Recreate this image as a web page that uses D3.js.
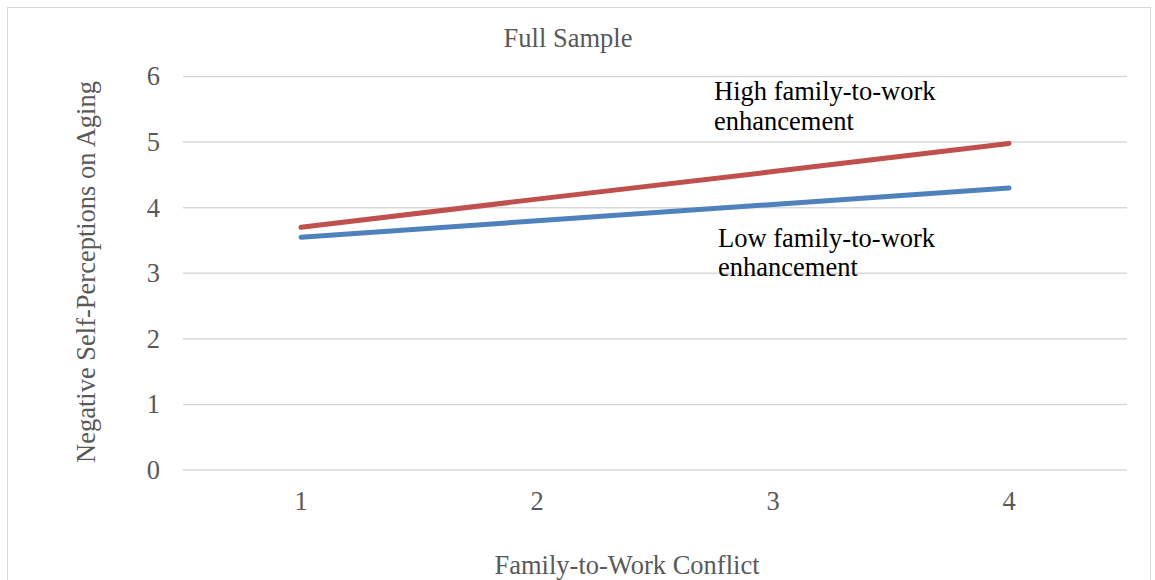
<!DOCTYPE html>
<html>
<head>
<meta charset="utf-8">
<script src="https://cdn.jsdelivr.net/npm/d3@7"></script>
<style>
  html, body { margin: 0; padding: 0; background: #fff; }
  svg { display: block; }
  text { font-family: "Liberation Serif", "Times New Roman", serif; }
</style>
</head>
<body>
<svg id="chart" width="1155" height="580"></svg>
<script>
// Family-to-work conflict levels on the x axis
const conflictLevels = [1, 2, 3, 4];
// Predicted negative self-perceptions on aging
const highEnhancement = [3.70, 4.13, 4.55, 4.98];
const lowEnhancement = [3.55, 3.80, 4.05, 4.30];
const yTicks = [0, 1, 2, 3, 4, 5, 6];

const seriesList = [
  { name: "High family-to-work enhancement", values: highEnhancement, color: "#c0504d" },
  { name: "Low family-to-work enhancement", values: lowEnhancement, color: "#4f81bd" }
];

const svg = d3.select("#chart");
const W = 1155, H = 580;
const FS = "26.5px";
const plot = { left: 183, right: 1127, top: 76.5, bottom: 470 };

// Outer frame of the chart area
svg.append("rect")
  .attr("x", 7.5).attr("y", 7.5)
  .attr("width", W - 12).attr("height", H)
  .attr("fill", "none").attr("stroke", "#d9d9d9").attr("stroke-width", 1);

const x = d3.scaleBand().domain(conflictLevels).range([plot.left, plot.right]);
const y = d3.scaleLinear().domain([0, 6]).range([plot.bottom, plot.top]);

// Horizontal gridlines
svg.append("g").selectAll("line").data(yTicks).join("line")
  .attr("x1", plot.left).attr("x2", plot.right)
  .attr("y1", d => y(d)).attr("y2", d => y(d))
  .attr("stroke", "#d9d9d9").attr("stroke-width", 1.5);

// Y axis labels
const yAxis = svg.append("g")
  .attr("transform", `translate(${plot.left},0)`)
  .call(d3.axisLeft(y).tickValues(yTicks).tickFormat(d3.format("d")).tickSize(0).tickPadding(23));
yAxis.select(".domain").remove();
yAxis.selectAll("text")
  .attr("fill", "#595959").style("font-size", FS)
  .style("font-family", "'Liberation Serif', serif");

// X axis labels
const xAxis = svg.append("g")
  .attr("transform", `translate(0,${plot.bottom})`)
  .call(d3.axisBottom(x).tickSize(0).tickPadding(21));
xAxis.select(".domain").remove();
xAxis.selectAll("text")
  .attr("fill", "#595959").style("font-size", FS)
  .style("font-family", "'Liberation Serif', serif");

// Series lines
const line = d3.line()
  .x((d, i) => x(conflictLevels[i]) + x.bandwidth() / 2)
  .y(d => y(d));

svg.append("g").selectAll("path").data(seriesList).join("path")
  .attr("d", d => line(d.values))
  .attr("fill", "none")
  .attr("stroke", d => d.color)
  .attr("stroke-width", 5)
  .attr("stroke-linecap", "round");

// Title
svg.append("text")
  .attr("x", 568).attr("y", 47)
  .attr("text-anchor", "middle")
  .attr("fill", "#595959").style("font-size", FS)
  .text("Full Sample");

// Axis titles
svg.append("text")
  .attr("x", 627).attr("y", 574)
  .attr("text-anchor", "middle")
  .attr("fill", "#595959").style("font-size", FS)
  .text("Family-to-Work Conflict");

svg.append("text")
  .attr("transform", "translate(95,272) rotate(-90)")
  .attr("text-anchor", "middle")
  .attr("fill", "#595959").style("font-size", FS)
  .text("Negative Self-Perceptions on Aging");

// Series annotations
const notes = [
  { lines: ["High family-to-work", "enhancement"], x: 714, y: 100, gap: 30 },
  { lines: ["Low family-to-work", "enhancement"], x: 718, y: 247, gap: 29 }
];
notes.forEach(n => {
  const t = svg.append("text")
    .attr("x", n.x).attr("y", n.y)
    .attr("fill", "#000").style("font-size", FS);
  n.lines.forEach((s, i) => {
    t.append("tspan").attr("x", n.x).attr("dy", i === 0 ? 0 : n.gap).text(s);
  });
});
</script>
</body>
</html>
